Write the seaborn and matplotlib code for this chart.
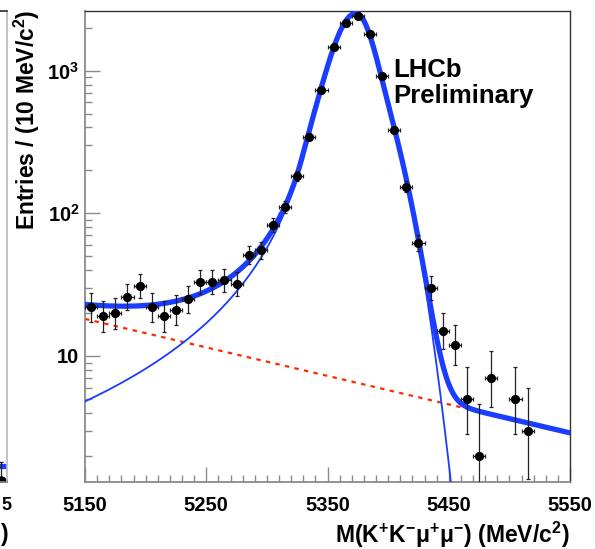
import math

import matplotlib
matplotlib.use("Agg")
import matplotlib.pyplot as plt
import numpy as np
import pandas as pd
import seaborn as sns
from matplotlib.ticker import FixedFormatter, FixedLocator, NullFormatter

# ---------------------------------------------------------------- data
bin_width = 10.0
bin_centres = np.arange(5155, 5550, 10)
counts = [22, 19, 20, 26, 31, 22, 19, 21, 25, 33,
          33, 34, 32, 51, 55, 83, 111, 183, 345, 732,
          1473, 2170, 2418, 1808, 918, 384, 154, 62, 30, 15,
          12, 5, 2, 7, 0, 5, 3, 0, 0, 0]

x_ticks = [5150, 5250, 5350, 5450, 5550]
x_tick_labels = ["5150", "5250", "5350", "5450", "5550"]
y_ticks = [10, 100, 1000]
y_tick_labels = ["10", "10$^{2}$", "10$^{3}$"]

# fit model parameters (signal: core Gaussian + Crystal-Ball-like wide part)
peak_mass = 5373.5
core_amp, wide_amp = 1400.0, 1120.0
core_sigma_lo, core_sigma_hi = 14.0, 10.7
wide_sigma_lo, wide_sigma_hi = 25.0, 21.3
tail_alpha, tail_n = 1.775, 1.9
bkg_at_low, bkg_slope = 18.2, -0.0046

# neighbouring panel (only its right edge is inside the canvas)
prev_fit_level = 1.69
prev_last_bin = [5545]
prev_last_value = [1.33]
prev_last_up = [0.47]

x_range = (5150, 5550)
y_range = (1.308, 2621)


# ---------------------------------------------------------------- helpers
def poisson_cdf(k, mu):
    if k < 0:
        return 0.0
    i = np.arange(k + 1)
    logfact = np.concatenate([[0.0], np.cumsum(np.log(np.arange(1, k + 1)))])
    return float(np.exp(-mu + i * math.log(mu) - logfact).sum())


def poisson_interval(n, cl=0.6827):
    """Classic (Garwood) central interval used for counting data."""
    a = (1.0 - cl) / 2.0

    def solve(f, target, lo, hi):
        for _ in range(70):
            mid = 0.5 * (lo + hi)
            if f(mid) > target:
                lo = mid
            else:
                hi = mid
        return 0.5 * (lo + hi)

    span = 10 + 8 * math.sqrt(n + 1)
    up = solve(lambda m: poisson_cdf(n, m), a, max(n, 1e-6), n + span)
    low = 0.0 if n == 0 else solve(lambda m: poisson_cdf(n - 1, m), 1 - a,
                                   max(n - span, 1e-6), n)
    return low, up


def signal(m):
    d = m - peak_mass
    core_s = np.where(d < 0, core_sigma_lo, core_sigma_hi)
    core = core_amp * np.exp(-0.5 * (d / core_s) ** 2)
    wide_s = np.where(d < 0, wide_sigma_lo, wide_sigma_hi)
    t = d / wide_s
    gauss = np.exp(-0.5 * t ** 2)
    A = (tail_n / tail_alpha) ** tail_n * np.exp(-0.5 * tail_alpha ** 2)
    B = tail_n / tail_alpha - tail_alpha
    tail = A * np.power(np.clip(B - t, 1e-9, None), -tail_n)
    wide = wide_amp * np.where(t < -tail_alpha, tail, gauss)
    return core + wide


def background(m):
    return bkg_at_low * np.exp(bkg_slope * (m - x_range[0]))


# ---------------------------------------------------------------- style
sns.set_theme(style="ticks")
plt.rcParams["font.family"] = ["Liberation Sans", "DejaVu Sans"]
plt.rcParams["font.weight"] = "bold"
plt.rcParams["text.color"] = "black"
plt.rcParams["xtick.labelcolor"] = "black"
plt.rcParams["ytick.labelcolor"] = "black"
plt.rcParams["mathtext.fontset"] = "custom"
plt.rcParams["mathtext.rm"] = "Liberation Sans:bold"
plt.rcParams["mathtext.bf"] = "Liberation Sans:bold"
plt.rcParams["mathtext.it"] = "Liberation Sans:bold:italic"
plt.rcParams["mathtext.default"] = "rm"

blue = "#1a3dff"
red = "#ff2a00"
axis_grey = "#8a8a8a"

W, H = 595, 549
fig = plt.figure(figsize=(W / 100, H / 100), dpi=100)
ax = fig.add_axes([85 / W, 1 - 482 / H, 485 / W, 471 / H])

# ---------------------------------------------------------------- curves
m = np.linspace(x_range[0], x_range[1], 1601)
curves = pd.DataFrame({"mass": m,
                       "signal": signal(m),
                       "background": background(m)})
curves["total"] = curves["signal"] + curves["background"]

sns.lineplot(data=curves, x="mass", y="background", ax=ax, color=red,
             linewidth=1.6, linestyle=(0, (2.0, 2.4)), zorder=2)
sns.lineplot(data=curves, x="mass", y="signal", ax=ax, color=blue,
             linewidth=1.3, zorder=3)
sns.lineplot(data=curves, x="mass", y="total", ax=ax, color=blue,
             linewidth=3.8, zorder=3)

# ---------------------------------------------------------------- data points
hist = pd.DataFrame({"mass": bin_centres, "n": counts})
hist = hist[hist["n"] > 0].reset_index(drop=True)
intervals = [poisson_interval(int(n)) for n in hist["n"]]
err_lo = hist["n"] - np.array([lo for lo, _ in intervals])
err_hi = np.array([up for _, up in intervals]) - hist["n"]

ax.errorbar(hist["mass"], hist["n"], yerr=[err_lo, err_hi],
            xerr=bin_width / 2, fmt="none", ecolor="#222222",
            elinewidth=0.9, capsize=1.6, capthick=0.9, zorder=4)
sns.scatterplot(data=hist, x="mass", y="n", ax=ax, color="black",
                edgecolor="black", s=44, linewidth=0, zorder=5)

# ---------------------------------------------------------------- axes
ax.set_yscale("log")
ax.set_xlim(*x_range)
ax.set_ylim(*y_range)
ax.set_xlabel("")
ax.set_ylabel("")

ax.xaxis.set_major_locator(FixedLocator(x_ticks))
ax.xaxis.set_major_formatter(FixedFormatter(x_tick_labels))
ax.xaxis.set_minor_locator(FixedLocator(np.arange(5160, 5550, 10)))

minor_y = [k * 10.0 ** e for e in range(0, 4) for k in range(2, 10)]
ax.yaxis.set_major_locator(FixedLocator(y_ticks))
ax.yaxis.set_major_formatter(FixedFormatter(y_tick_labels))
ax.yaxis.set_minor_locator(FixedLocator(minor_y))
ax.yaxis.set_minor_formatter(NullFormatter())

ax.tick_params(which="both", direction="in", color=axis_grey, width=1.0,
               top=False, right=False, labelcolor="black")
ax.tick_params(which="major", length=10.5)
ax.tick_params(which="minor", length=5.0)
ax.tick_params(axis="x", which="major", labelsize=14.5, pad=10)
ax.tick_params(axis="y", which="major", labelsize=14.5, pad=4)
for lab in ax.get_xticklabels() + ax.get_yticklabels():
    lab.set_fontweight("bold")

ax.spines["left"].set_color(axis_grey)
ax.spines["bottom"].set_color(axis_grey)
ax.spines["left"].set_linewidth(1.3)
ax.spines["bottom"].set_linewidth(1.3)
ax.spines["top"].set_color("#333333")
ax.spines["right"].set_color("#333333")
ax.spines["top"].set_linewidth(1.0)
ax.spines["right"].set_linewidth(1.0)

fig.text(393 / W, 1 - 58 / H, "LHCb", color="black",
         fontsize=18.5, fontweight="bold", ha="left", va="top")
fig.text(393 / W, 1 - 84 / H, "Preliminary", color="black",
         fontsize=18.5, fontweight="bold", ha="left", va="top")

fig.text(570 / W, 1 - 535 / H,
         "M(K$^{+}$K$^{-}$μ$^{+}$μ$^{-}$) (MeV/c$^{2}$)", color="black",
         fontsize=16.5, fontweight="bold", ha="right", va="center")
fig.text(27 / W, 1 - 10 / H, "Entries / (10 MeV/c$^{2}$)", color="black",
         fontsize=16.5, fontweight="bold", rotation=90,
         ha="center", va="top")

# ---------------------------------------------------------------- neighbour panel edge
ax_prev = fig.add_axes([(7 - 485) / W, 1 - 482 / H, 485 / W, 471 / H])
ax_prev.set_yscale("log")
ax_prev.set_xlim(*x_range)
ax_prev.set_ylim(*y_range)
ax_prev.axhline(prev_fit_level, color=blue, linewidth=3.8)
ax_prev.errorbar(prev_last_bin, prev_last_value,
                 yerr=[[0.0], prev_last_up], xerr=bin_width / 2, fmt="o",
                 color="black", ecolor="#222222", markersize=6.5,
                 elinewidth=0.9, capsize=1.6)
ax_prev.set_xticks([])
ax_prev.set_yticks([])
ax_prev.minorticks_off()
ax_prev.spines["right"].set_color("#bbbbbb")
ax_prev.spines["bottom"].set_color(axis_grey)
ax_prev.spines["top"].set_color("#333333")
fig.text(1 / W, 1 - 505 / H, "5", fontsize=13, fontweight="bold",
         color="black", ha="left", va="center")
fig.text(1 / W, 1 - 535 / H, ")", fontsize=16.5, fontweight="bold",
         color="black", ha="left", va="center")

fig.savefig("out.png", dpi=100)
